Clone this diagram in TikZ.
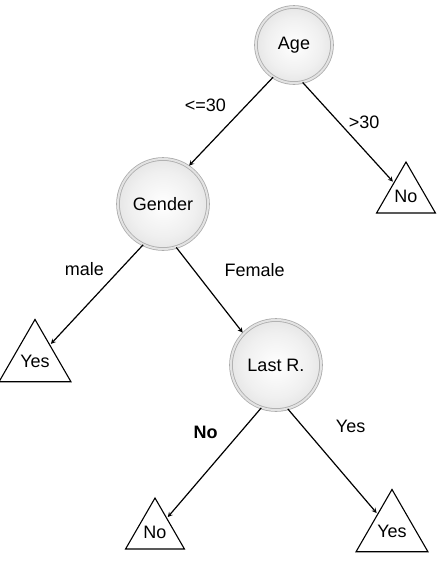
\documentclass[tikz,border=0pt]{standalone}
\usepackage{fontspec}
\setmainfont{Liberation Sans}
\usetikzlibrary{shapes.geometric, arrows}

\pgfdeclareradialshading{splitball}{\pgfpoint{0bp}{0bp}}{color(0bp)=(white); color(18bp)=(gray!12); color(40bp)=(gray!35); color(50bp)=(gray!48)}

\tikzset{
  split/.style={circle, draw=gray!65, line width=0.8pt, double=gray!22, double distance=2pt, shade, shading=splitball, minimum size=90pt, inner sep=0pt},
  leaf/.style={regular polygon, regular polygon sides=3, draw, line width=1.1pt, minimum size=68pt, inner sep=0pt}
}

\begin{document}
\begin{tikzpicture}[x=1pt, y=-1pt, ->, >=stealth, shorten >=1pt, line width=1.2pt, font=\fontsize{18}{20}\selectfont]
      \useasboundingbox (0,0) rectangle (442,574);

      \node[split, minimum size=76pt] (age) at (294,45) {Age};
      \node[split] (gender) at (163,204) {Gender};
      \node[split] (last) at (276,365) {Last R.};
      \node[leaf] (no1) at (406,196) {No};
      \node[leaf] (yes1) at (35,361) {Yes};
      \node[leaf] (no2) at (155,532) {No};
      \node[leaf] (yes2) at (392,531) {Yes};

      \path (age.237) edge node[pos=0.31, left=17pt] {<=30} (gender.56)
            (age.283) edge node[pos=0.4, right=6pt] {>30} (no1)
            (gender.244) edge node[pos=0.24, left=13pt] {male} (yes1)
            (gender.287) edge node[pos=0.26, right=27pt] {Female} (last.136)
            (last.251) edge node[pos=0.22, left=19pt] {\textbf{No}} (no2)
            (last.285) edge node[pos=0.17, right=29pt] {Yes} (yes2)
            ;
    \end{tikzpicture}
\end{document}
